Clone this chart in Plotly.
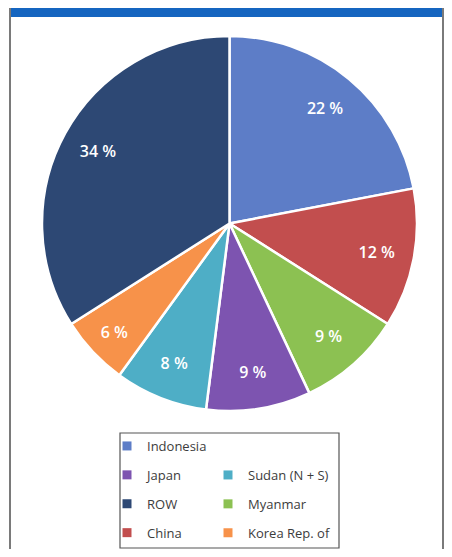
import plotly.graph_objects as go

countries = ["Indonesia", "China", "Myanmar", "Japan", "Sudan (N + S)", "Korea Rep. of", "ROW"]
shares = [22, 12, 9, 9, 8, 6, 34]
colors = ["#5D7DC7", "#C24E4E", "#8CC152", "#7D54B0", "#4EAEC6", "#F7924A", "#2D4874"]

legend1_items = ["Indonesia", "Japan", "ROW", "China"]
legend2_items = ["Sudan (N + S)", "Myanmar", "Korea Rep. of"]

# page body has an 8px margin; work in reference pixel coords and shift
OFF = 8
W, H = 452 - 2 * OFF, 557 - 2 * OFF
def px(x):
    return (x - OFF) / W
def py(y):
    return 1 - (y - OFF) / H

color_of = dict(zip(countries, colors))
dom = dict(x=[px(42), px(417)], y=[py(411), py(36)])

fig = go.Figure()
# coloured pie (no text)
fig.add_trace(go.Pie(
    labels=countries, values=shares, sort=False, direction="clockwise", rotation=0,
    marker=dict(colors=colors, line=dict(color="white", width=2.5)),
    textinfo="none", domain=dom, showlegend=False, hoverinfo="label+value",
))
# transparent ring carrying the percentage labels further out
fig.add_trace(go.Pie(
    labels=countries, values=shares, sort=False, direction="clockwise", rotation=0,
    hole=0.6,
    marker=dict(colors=["rgba(0,0,0,0)"] * len(countries), line=dict(width=0)),
    texttemplate="%{value} %", textposition="inside", insidetextorientation="horizontal",
    textfont=dict(color="white", size=16, family="Open Sans", weight=600),
    domain=dom, showlegend=False, hoverinfo="skip",
))

for name in legend1_items:
    fig.add_trace(go.Scatter(x=[None], y=[None], mode="markers", name=name,
                             marker=dict(symbol="square", size=9, color=color_of[name]),
                             legend="legend", legendgroup=name))
for name in legend2_items:
    fig.add_trace(go.Scatter(x=[None], y=[None], mode="markers", name=name,
                             marker=dict(symbol="square", size=9, color=color_of[name]),
                             legend="legend2", legendgroup=name))

legend_style = dict(
    font=dict(family="Open Sans", size=13, color="#3C3C3C"),
    bgcolor="rgba(0,0,0,0)", borderwidth=0, tracegroupgap=9,
    xanchor="left", yanchor="top", itemwidth=30,
)

fig.update_layout(
    width=W, height=H, margin=dict(l=0, r=0, t=0, b=0),
    paper_bgcolor="white", plot_bgcolor="white",
    xaxis=dict(visible=False), yaxis=dict(visible=False),
    legend=dict(x=px(107), y=py(431), **legend_style),
    legend2=dict(x=px(208), y=py(460), **legend_style),
    shapes=[
        dict(type="rect", xref="paper", yref="paper", x0=px(10), x1=px(443), y0=py(17), y1=1,
             fillcolor="#1565C0", line=dict(width=0), layer="below"),
        dict(type="line", xref="paper", yref="paper", x0=px(10), x1=px(10), y0=0, y1=1,
             line=dict(color="#7A7A7A", width=2)),
        dict(type="line", xref="paper", yref="paper", x0=px(443), x1=px(443), y0=0, y1=1,
             line=dict(color="#7A7A7A", width=2)),
        dict(type="rect", xref="paper", yref="paper", x0=px(120), x1=px(339), y0=py(548), y1=py(433),
             line=dict(color="#555555", width=1.2), fillcolor="rgba(0,0,0,0)"),
    ],
)

fig.write_html("out.html")
